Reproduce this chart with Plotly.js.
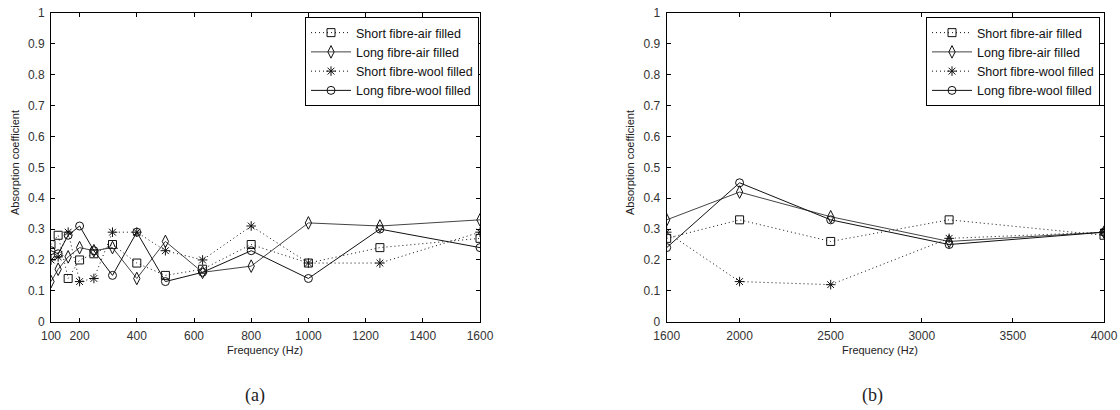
<!DOCTYPE html>
<html>
<head>
<meta charset="utf-8">
<script src="https://cdn.plot.ly/plotly-3.0.1.min.js"></script>
<style>
html,body{margin:0;padding:0;background:#fff;}
#chart{width:1120px;height:410px;}
</style>
</head>
<body>
<div id="chart"></div>
<script>
// ---- Data ----
const seriesNames = ["Short fibre-air filled", "Long fibre-air filled", "Short fibre-wool filled", "Long fibre-wool filled"];

// Panel (a): 100 - 1600 Hz
const freqA = [100, 125, 160, 200, 250, 315, 400, 500, 630, 800, 1000, 1250, 1600];
const shortAirA  = [0.25, 0.28, 0.14, 0.20, 0.22, 0.25, 0.19, 0.15, 0.17, 0.25, 0.19, 0.24, 0.27];
const longAirA   = [0.13, 0.17, 0.21, 0.24, 0.23, 0.24, 0.14, 0.26, 0.16, 0.18, 0.32, 0.31, 0.33];
const shortWoolA = [0.20, 0.21, 0.29, 0.13, 0.14, 0.29, 0.29, 0.23, 0.20, 0.31, 0.19, 0.19, 0.29];
const longWoolA  = [0.23, 0.22, 0.28, 0.31, 0.23, 0.15, 0.29, 0.13, 0.16, 0.23, 0.14, 0.30, 0.24];

// Panel (b): 1600 - 4000 Hz
const freqB = [1600, 2000, 2500, 3150, 4000];
const shortAirB  = [0.27, 0.33, 0.26, 0.33, 0.28];
const longAirB   = [0.33, 0.42, 0.34, 0.26, 0.29];
const shortWoolB = [0.29, 0.13, 0.12, 0.27, 0.29];
const longWoolB  = [0.24, 0.45, 0.33, 0.25, 0.29];

const xTicksA = [100, 200, 400, 600, 800, 1000, 1200, 1400, 1600];
const xTicksB = [1600, 2000, 2500, 3000, 3500, 4000];
const yTicks = [0, 0.1, 0.2, 0.3, 0.4, 0.5, 0.6, 0.7, 0.8, 0.9, 1];

// ---- Styles ----
const DOT = "1px,3px";
const styles = [
  {dash: DOT,     color: "#111", symbol: "square-open",       size: 8},
  {dash: "solid", color: "#444", symbol: "diamond-tall-open", size: 9},
  {dash: DOT,     color: "#111", symbol: "asterisk-open",     size: 8},
  {dash: "solid", color: "#111", symbol: "circle-open",       size: 8}
];

function mk(x, y, i, xa, ya, leg) {
  const s = styles[i];
  return {
    x: x, y: y, name: seriesNames[i], type: "scatter", mode: "lines+markers",
    xaxis: xa, yaxis: ya, legend: leg,
    line: {color: s.color, width: 1, dash: s.dash},
    marker: {symbol: s.symbol, size: s.size, color: "#111", line: {color: "#111", width: 1}}
  };
}

const dataA = [shortAirA, longAirA, shortWoolA, longWoolA];
const dataB = [shortAirB, longAirB, shortWoolB, longWoolB];
const traces = [];
dataA.forEach((d, i) => traces.push(mk(freqA, d, i, "x", "y", "legend")));
dataB.forEach((d, i) => traces.push(mk(freqB, d, i, "x2", "y2", "legend2")));

const FONT = "Liberation Sans, Arial, sans-serif";
const tickFont = {family: FONT, size: 12, color: "#333"};

function xax(domain, range, ticks, anchor) {
  return {
    domain: domain, range: range, tickvals: ticks, ticktext: ticks.map(String),
    anchor: anchor, showline: true, linecolor: "#000", linewidth: 1, mirror: "allticks",
    ticks: "inside", ticklen: 4, tickcolor: "#000", showgrid: false, zeroline: false,
    tickfont: tickFont, automargin: false, ticklabelstandoff: 3
  };
}
function yax(domain, anchor) {
  return {
    domain: domain, range: [0, 1], tickvals: yTicks, ticktext: yTicks.map(String),
    anchor: anchor, showline: true, linecolor: "#000", linewidth: 1, mirror: "allticks",
    ticks: "inside", ticklen: 4, tickcolor: "#000", showgrid: false, zeroline: false,
    tickfont: tickFont, automargin: false, ticklabelstandoff: 3
  };
}

const yDom = [(410 - 321.7) / 410, (410 - 13) / 410];
const legendStyle = {
  bgcolor: "#fff", bordercolor: "#000", borderwidth: 1,
  font: {family: FONT, size: 12.5, color: "#111"},
  xanchor: "left", yanchor: "top", tracegroupgap: 0, itemwidth: 40
};

function ann(text, x, y, size, family, angle) {
  return {text: text, xref: "paper", yref: "paper", x: x / 1120, y: (410 - y) / 410,
    xanchor: "center", yanchor: "middle", textangle: angle || 0, showarrow: false,
    font: {family: family, size: size, color: "#222"}};
}

const layout = {
  width: 1120, height: 410,
  margin: {l: 0, r: 0, t: 0, b: 0},
  paper_bgcolor: "#fff", plot_bgcolor: "#fff",
  showlegend: true,
  xaxis: xax([51 / 1120, 480 / 1120], [100, 1600], xTicksA, "y"),
  yaxis: yax(yDom, "x"),
  xaxis2: xax([666.7 / 1120, 1104 / 1120], [1600, 4000], xTicksB, "y2"),
  yaxis2: yax(yDom, "x2"),
  legend: Object.assign({x: 305 / 1120, y: (410 - 17) / 410}, legendStyle),
  legend2: Object.assign({x: 926 / 1120, y: (410 - 17) / 410}, legendStyle),
  annotations: [
    ann("Absorption coefficient", 15, 163, 11, FONT, -90),
    ann("Absorption coefficient", 630, 163, 11, FONT, -90),
    ann("Frequency (Hz)", 265, 350, 11, FONT),
    ann("Frequency (Hz)", 880, 350, 11, FONT),
    ann("(a)", 255, 395, 18, "Liberation Serif, Times New Roman, serif"),
    ann("(b)", 872, 395, 18, "Liberation Serif, Times New Roman, serif")
  ]
};

Plotly.newPlot("chart", traces, layout, {displayModeBar: false, staticPlot: true});
</script>
</body>
</html>
